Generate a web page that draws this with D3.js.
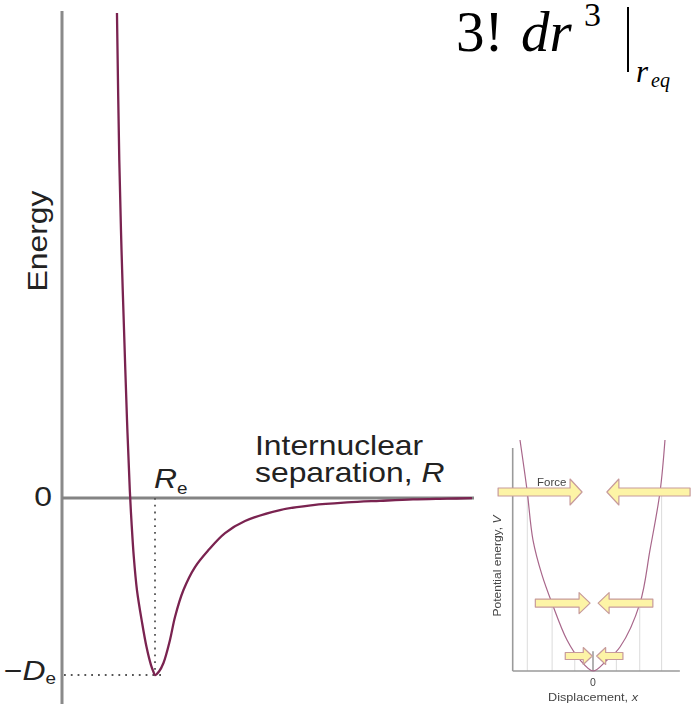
<!DOCTYPE html>
<html>
<head>
<meta charset="utf-8">
<script src="https://cdn.jsdelivr.net/npm/d3@7"></script>
<style>
  body { margin: 0; background: #fff; }
  svg { display: block; }
</style>
</head>
<body>
<svg id="chart" width="691" height="704"></svg>
<script>
// Molecular potential energy curve: separation in units of Re, energy in units of De
const separation = [0.591, 0.616, 0.640, 0.667, 0.699, 0.729, 0.748, 0.772, 0.806, 0.860,
  0.909, 0.957, 0.982, 1.000, 1.043, 1.091, 1.161, 1.215, 1.306, 1.430,
  1.575, 1.753, 1.968, 2.344, 2.699, 3.065, 3.419, 3.774, 4.140, 4.409];
const energy = [2.740, 1.910, 1.401, 0.949, 0.441, 0.045, -0.141, -0.333, -0.520, -0.701,
  -0.842, -0.944, -0.980, -1.000, -0.980, -0.932, -0.802, -0.672, -0.520, -0.390,
  -0.294, -0.198, -0.130, -0.068, -0.040, -0.025, -0.016, -0.008, -0.004, -0.001];
const energyTicks = [0, -1];
const equilibriumSeparation = 1.0;

// Harmonic well inset: displacement x and potential energy V
const displacement = [-1.000, -0.904, -0.822, -0.699, -0.562, -0.356, -0.178, 0.000,
  0.178, 0.370, 0.644, 0.781, 0.918, 0.986];
const potential = [1.000, 0.784, 0.567, 0.416, 0.294, 0.134, 0.048, 0.000,
  0.043, 0.104, 0.294, 0.524, 0.775, 1.000];
// Restoring-force arrows, one row per energy level
const forceLevels = [0.775, 0.294, 0.065];
const leftTails = [-1.30, -0.79, -0.38];
const leftTips = [-0.15, -0.04, -0.01];
const rightTips = [0.19, 0.07, 0.05];
const rightTails = [1.33, 0.82, 0.41];
// Turning points marked by faint verticals
const turningLeft = [-0.90, -0.56, -0.25];
const turningRight = [0.94, 0.64, 0.32];

const svg = d3.select("#chart");
const ink = "#222";
const sans = "'Liberation Sans', Arial, sans-serif";
const serif = "'Liberation Serif', 'Times New Roman', serif";

// ---------- main chart ----------
const x = d3.scaleLinear().domain([0, 4.43]).range([62, 474]);
const y = d3.scaleLinear().domain([-1, 0]).range([675, 498]);

// energy axis (vertical) and zero line
svg.append("line").attr("x1", x(0)).attr("x2", x(0)).attr("y1", 11).attr("y2", 704)
  .attr("stroke", "#8a8a8a").attr("stroke-width", 3);
svg.append("line").attr("x1", x(0)).attr("x2", x(4.43)).attr("y1", y(0)).attr("y2", y(0))
  .attr("stroke", "#848484").attr("stroke-width", 3);

// dotted guides to the minimum
svg.append("line").attr("x1", x(equilibriumSeparation)).attr("x2", x(equilibriumSeparation))
  .attr("y1", y(0)).attr("y2", y(-1))
  .attr("stroke", "#555").attr("stroke-width", 1.8).attr("stroke-dasharray", "1.8,5");
svg.append("line").attr("x1", x(0) + 2).attr("x2", x(equilibriumSeparation) + 7)
  .attr("y1", y(-1)).attr("y2", y(-1))
  .attr("stroke", "#555").attr("stroke-width", 1.8).attr("stroke-dasharray", "1.8,5");

// potential curve
const pts = separation.map((r, i) => [r, energy[i]]);
svg.append("path").datum(pts)
  .attr("d", d3.line().x(d => x(d[0])).y(d => y(d[1])).curve(d3.curveCatmullRom.alpha(0.5)))
  .attr("fill", "none").attr("stroke", "#7a2350").attr("stroke-width", 2.3)
  .attr("stroke-linejoin", "round");

// helper: horizontally widened sans text
function label(g, px, py, anchor) {
  return g.append("text")
    .attr("transform", `translate(${px},${py}) scale(1.18,1)`)
    .attr("text-anchor", anchor || "start")
    .attr("font-family", sans).attr("fill", ink);
}

// tick labels
label(svg, 52, y(energyTicks[0]) + 8, "end").attr("font-size", 27).text("0");
const de = label(svg, 56, y(energyTicks[1]) + 5, "end").attr("font-size", 27);
de.append("tspan").text("\u2212");
de.append("tspan").attr("font-style", "italic").text("D");
de.append("tspan").attr("font-size", 16).attr("dy", 4).text("e");

const re = label(svg, x(equilibriumSeparation) - 1, 488).attr("font-size", 27);
re.append("tspan").attr("font-style", "italic").text("R");
re.append("tspan").attr("font-size", 16).attr("dy", 6).text("e");

// axis titles
svg.append("text")
  .attr("transform", "translate(47,241) rotate(-90) scale(1.18,1)")
  .attr("text-anchor", "middle").attr("font-family", sans).attr("font-size", 27)
  .attr("fill", ink).text("Energy");
label(svg, 255, 455).attr("font-size", 27).text("Internuclear");
const sep = label(svg, 255, 482).attr("font-size", 27);
sep.append("tspan").text("separation, ");
sep.append("tspan").attr("font-style", "italic").text("R");

// ---------- expansion term at top right ----------
const f = svg.append("g").attr("fill", "#000").attr("font-family", serif);
f.append("text").attr("x", 456).attr("y", 51).attr("font-size", 57).text("3!");
f.append("text").attr("x", 521).attr("y", 51).attr("font-size", 57)
  .attr("font-style", "italic").text("dr");
f.append("text").attr("x", 584).attr("y", 26).attr("font-size", 34).text("3");
f.append("line").attr("x1", 628).attr("x2", 628).attr("y1", 7).attr("y2", 72)
  .attr("stroke", "#000").attr("stroke-width", 2);
f.append("text").attr("x", 636).attr("y", 82).attr("font-size", 31)
  .attr("font-style", "italic").text("r");
f.append("text").attr("x", 651).attr("y", 87).attr("font-size", 20)
  .attr("font-style", "italic").text("eq");

// ---------- harmonic well inset ----------
const defs = svg.append("defs");
defs.append("filter").attr("id", "soft").append("feGaussianBlur").attr("stdDeviation", 0.5);
const inset = svg.append("g").attr("filter", "url(#soft)");
const ix = d3.scaleLinear().domain([-1, 1]).range([520, 666]);
const iy = d3.scaleLinear().domain([0, 1]).range([671, 440]);

// turning-point verticals
forceLevels.forEach((v, i) => {
  [turningLeft[i], turningRight[i]].forEach(t => {
    inset.append("line").attr("x1", ix(t)).attr("x2", ix(t))
      .attr("y1", iy(v)).attr("y2", iy(0))
      .attr("stroke", "#dcdcdc").attr("stroke-width", 1);
  });
});

// axes
inset.append("line").attr("x1", ix(-1.1)).attr("x2", ix(-1.1)).attr("y1", 448).attr("y2", iy(0))
  .attr("stroke", "#9a9a9a").attr("stroke-width", 1.6);
inset.append("line").attr("x1", ix(-1.1)).attr("x2", ix(1.19)).attr("y1", iy(0)).attr("y2", iy(0))
  .attr("stroke", "#9a9a9a").attr("stroke-width", 1.6);
inset.append("line").attr("x1", ix(0)).attr("x2", ix(0)).attr("y1", iy(0.085)).attr("y2", iy(0))
  .attr("stroke", "#888").attr("stroke-width", 1.3);

// parabola
const well = displacement.map((d, i) => [d, potential[i]]);
inset.append("path").datum(well)
  .attr("d", d3.line().x(d => ix(d[0])).y(d => iy(d[1])).curve(d3.curveCatmullRom))
  .attr("fill", "none").attr("stroke", "#a8668a").attr("stroke-width", 1.2);

// arrows
function arrow(tail, tip, yc, h, H, L) {
  const dir = tip > tail ? 1 : -1;
  const b = tip - dir * L;
  return `M${tail},${yc - h}L${b},${yc - h}L${b},${yc - H}L${tip},${yc}` +
    `L${b},${yc + H}L${b},${yc + h}L${tail},${yc + h}Z`;
}
const sizes = [[4, 13, 12], [4, 10.5, 11], [3.5, 8.5, 9]];
forceLevels.forEach((v, i) => {
  const [h, H, L] = sizes[i];
  [[leftTails[i], leftTips[i]], [rightTails[i], rightTips[i]]].forEach(([a, b]) => {
    inset.append("path").attr("d", arrow(ix(a), ix(b), iy(v), h, H, L))
      .attr("fill", "#fdf4a6").attr("stroke", "#c79b9b").attr("stroke-width", 1.2)
      .attr("stroke-linejoin", "round");
  });
});

// inset texts
inset.append("text").attr("transform", "translate(537,486) scale(1.15,1)")
  .attr("font-family", sans).attr("font-size", 10).attr("fill", "#444").text("Force");
const pv = inset.append("text")
  .attr("transform", "translate(501,566) rotate(-90) scale(1.15,1)")
  .attr("text-anchor", "middle").attr("font-family", sans).attr("font-size", 10.5).attr("fill", "#444");
pv.append("tspan").text("Potential energy, ");
pv.append("tspan").attr("font-style", "italic").text("V");
inset.append("text").attr("x", ix(0)).attr("y", 686).attr("text-anchor", "middle")
  .attr("font-family", sans).attr("font-size", 10.5).attr("fill", "#444").text("0");
const dx = inset.append("text").attr("transform", `translate(${ix(0)},701) scale(1.15,1)`)
  .attr("text-anchor", "middle").attr("font-family", sans).attr("font-size", 11).attr("fill", "#444");
dx.append("tspan").text("Displacement, ");
dx.append("tspan").attr("font-style", "italic").text("x");
</script>
</body>
</html>
